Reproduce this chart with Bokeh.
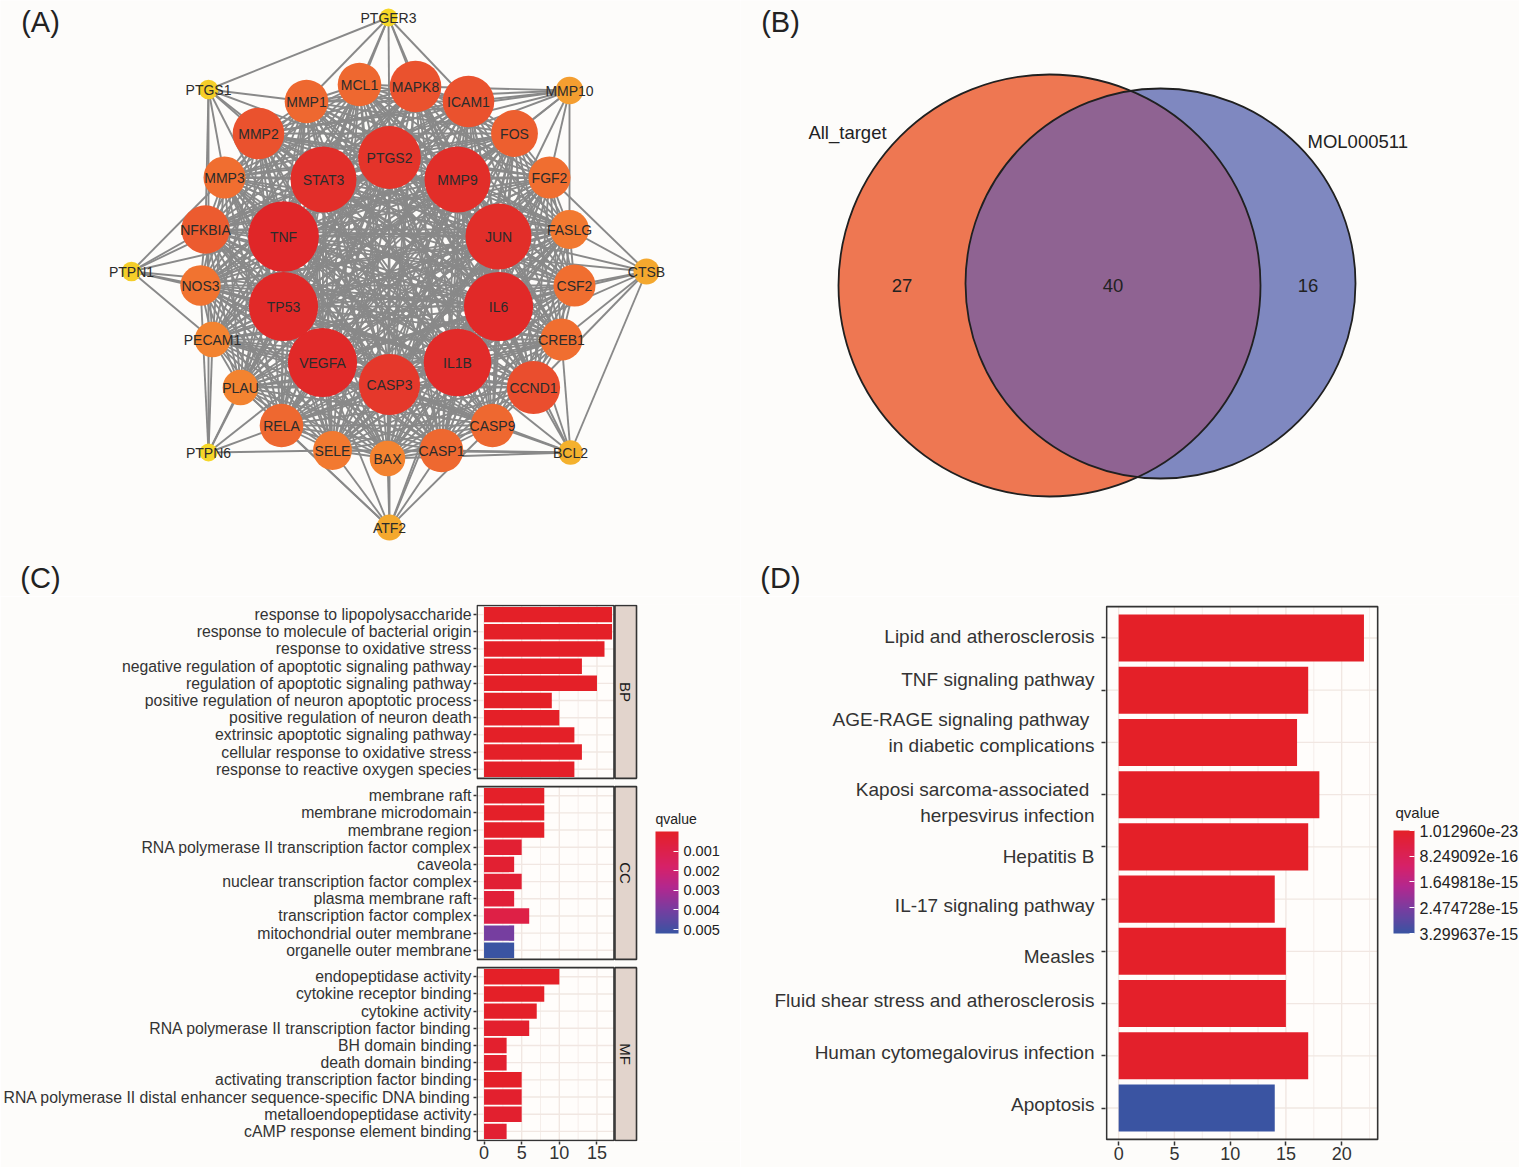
import numpy as np
from bokeh.plotting import figure
from bokeh.layouts import row, column
from bokeh.models import (Range1d, ColumnDataSource, LinearColorMapper, LinearAxis,
                          ColorBar, FixedTicker, CustomJSTickFormatter, AllLabels)
from bokeh.core.properties import value
from bokeh.embed import file_html
from bokeh.resources import INLINE

FONT = "Liberation Sans"
BG = "#FDFCFA"
PANEL_BG = "#FFFDFB"
GRID = "#F1E7E2"
INK = "#2B2B2B"

# ======================= DATA =======================
# (A) PPI network: inner ring, middle ring, outer ring
NODE_NAMES = ["PTGS2", "MMP9", "JUN", "IL6", "IL1B", "CASP3", "VEGFA", "TP53", "TNF", "STAT3",
              "MCL1", "MAPK8", "ICAM1", "FOS", "FGF2", "FASLG", "CSF2", "CREB1", "CCND1", "CASP9",
              "CASP1", "BAX", "SELE", "RELA", "PLAU", "PECAM1", "NOS3", "NFKBIA", "MMP3", "MMP2", "MMP1",
              "PTGER3", "PTGS1", "MMP10", "PTPN1", "CTSB", "PTPN6", "BCL2", "ATF2"]
NODE_X = [389, 457, 498, 498, 457, 389, 322, 283, 283, 323,
          359, 415, 468, 514, 549, 569, 574, 561, 533, 492,
          441, 387, 332, 281, 240, 212, 200, 205, 224, 258, 306,
          388, 208, 569, 131, 646, 208, 570, 389]
NODE_Y = [157, 179, 236, 306, 362, 384, 362, 306, 236, 179,
          84, 86, 101, 133, 177, 229, 285, 339, 387, 425,
          450, 458, 450, 425, 387, 339, 285, 229, 177, 133, 101,
          17, 89, 90, 271, 271, 452, 452, 527]
NODE_DEGREE = [33, 35, 35, 37, 36, 32, 37, 37, 38, 35,
               21, 26, 26, 23, 20, 18, 20, 20, 27, 21,
               21, 16, 18, 21, 16, 16, 19, 24, 20, 26, 21,
               5, 6, 11, 6, 10, 5, 9, 10]
N_CORE = 31
OUTER_LINKS = {
    "PTGER3": ["PTGS1", "MMP1", "MCL1", "MAPK8", "ICAM1", "PTGS2", "STAT3", "MMP9"],
    "PTGS1": ["MMP2", "MMP1", "MMP3", "STAT3", "PTGS2", "TNF", "NFKBIA", "PTPN6"],
    "MMP10": ["MAPK8", "ICAM1", "FOS", "FGF2", "MMP9", "JUN", "MMP2", "MMP1", "MMP3", "FASLG", "PTGS2"],
    "PTPN1": ["NFKBIA", "NOS3", "MMP3", "TNF", "TP53", "STAT3", "PECAM1", "IL6"],
    "CTSB": ["FASLG", "CSF2", "CREB1", "JUN", "IL6", "CCND1", "BCL2", "FGF2", "CASP3", "TNF"],
    "PTPN6": ["PECAM1", "PLAU", "RELA", "SELE", "VEGFA", "TP53", "NOS3"],
    "BCL2": ["CASP9", "CASP1", "CCND1", "CREB1", "IL1B", "CASP3", "BAX", "SELE", "JUN", "IL6"],
    "ATF2": ["BAX", "SELE", "CASP1", "RELA", "CASP9", "CASP3", "IL1B", "VEGFA", "JUN", "PLAU"],
}

# (B) Venn
VENN_SETS = ["All_target", "MOL000511"]
VENN_COUNTS = [27, 40, 16]   # only set 1, both, only set 2

# (C) GO enrichment
BP_TERMS = ["response to lipopolysaccharide", "response to molecule of bacterial origin",
            "response to oxidative stress", "negative regulation of apoptotic signaling pathway",
            "regulation of apoptotic signaling pathway", "positive regulation of neuron apoptotic process",
            "positive regulation of neuron death", "extrinsic apoptotic signaling pathway",
            "cellular response to oxidative stress", "response to reactive oxygen species"]
BP_COUNT = [17, 17, 16, 13, 15, 9, 10, 12, 13, 12]
BP_Q = [2.1e-9, 2.1e-9, 3.5e-8, 4.8e-7, 1.2e-7, 6.5e-6, 6.5e-6, 1.9e-5, 9.3e-6, 4.4e-5]
CC_TERMS = ["membrane raft", "membrane microdomain", "membrane region",
            "RNA polymerase II transcription factor complex", "caveola",
            "nuclear transcription factor complex", "plasma membrane raft",
            "transcription factor complex", "mitochondrial outer membrane", "organelle outer membrane"]
CC_COUNT = [8, 8, 8, 5, 4, 5, 4, 6, 4, 4]
CC_Q = [2.4e-5, 2.4e-5, 2.6e-5, 3.1e-4, 2.9e-4, 3.4e-4, 4.5e-4, 8.5e-4, 4.0e-3, 5.2e-3]
MF_TERMS = ["endopeptidase activity", "cytokine receptor binding", "cytokine activity",
            "RNA polymerase II transcription factor binding", "BH domain binding", "death domain binding",
            "activating transcription factor binding",
            "RNA polymerase II distal enhancer sequence-specific DNA binding",
            "metalloendopeptidase activity", "cAMP response element binding"]
MF_COUNT = [10, 8, 7, 6, 3, 3, 5, 5, 5, 3]
MF_Q = [1.4e-5, 3.0e-7, 4.0e-5, 1.8e-4, 1.8e-4, 2.2e-4, 1.1e-5, 1.8e-4, 2.1e-4, 3.0e-4]
GO_FACETS = ["BP", "CC", "MF"]
GO_X_TICKS = [0, 5, 10, 15]
GO_Q_BREAKS = [0.001, 0.002, 0.003, 0.004, 0.005]

# (D) KEGG enrichment
KEGG_TERMS = ["Lipid and atherosclerosis", "TNF signaling pathway",
              "AGE-RAGE signaling pathway \nin diabetic complications",
              "Kaposi sarcoma-associated \nherpesvirus infection", "Hepatitis B",
              "IL-17 signaling pathway", "Measles", "Fluid shear stress and atherosclerosis",
              "Human cytomegalovirus infection", "Apoptosis"]
KEGG_COUNT = [22, 17, 16, 18, 17, 14, 15, 15, 17, 14]
KEGG_Q = [1.012960e-23, 3.2e-21, 2.1e-18, 3.4e-19, 1.9e-18, 4.6e-17, 1.6e-17, 4.2e-17, 5.5e-17, 3.299637e-15]
KEGG_X_TICKS = [0, 5, 10, 15, 20]
KEGG_Q_BREAKS = [1.012960e-23, 8.249092e-16, 1.649818e-15, 2.474728e-15, 3.299637e-15]
# vertical nudge of each KEGG tick label relative to its tick (rows), as printed
KEGG_LABEL_NUDGE = [-0.02, -0.21, -0.19, 0.15, 0.19, 0.13, 0.1, -0.06, -0.06, -0.06]


# ======================= helpers =======================
def ramp(stops, n=256):
    ts = np.array([s[0] for s in stops])
    cols = np.array([s[1] for s in stops], float)
    out = []
    for t in np.linspace(0, 1, n):
        r, g, b = (np.interp(t, ts, cols[:, k]) for k in range(3))
        out.append("#%02x%02x%02x" % (int(round(r)), int(round(g)), int(round(b))))
    return out


Q_PALETTE = ramp([(0.0, (228, 32, 40)), (0.35, (214, 33, 105)), (0.55, (178, 40, 143)),
                  (0.77, (118, 62, 160)), (1.0, (58, 84, 162))])
NODE_PALETTE = ramp([(0.0, (246, 215, 40)), (0.06, (244, 196, 42)), (0.18, (244, 158, 48)),
                     (0.35, (243, 128, 48)), (0.5, (238, 102, 48)), (0.65, (234, 80, 46)),
                     (0.85, (228, 52, 42)), (1.0, (224, 38, 40))])

PAGE_W, PAGE_H = 1519, 1167
TOP_H = 596
BOT_H = PAGE_H - TOP_H
W_LEFT = 740
W_RIGHT = PAGE_W - W_LEFT


def blank_fig(x0, x1, y0, y1, w, h):
    p = figure(width=w, height=h, x_range=Range1d(x0, x1), y_range=Range1d(y1, y0),
               output_backend="svg", toolbar_location=None, x_axis_location=None,
               y_axis_location=None, min_border=0, background_fill_color=BG,
               border_fill_color=BG, outline_line_color=None)
    p.grid.grid_line_color = None
    return p


def panel_tag(p, xs, ys, tags):
    p.text(x=xs, y=ys, text=tags, text_font=value(FONT), text_font_size="29px",
           text_color="#222222", text_align="center", text_baseline="middle")


def style_axis(ax, tick_out, size):
    ax.axis_line_color = None
    ax.major_tick_out = tick_out
    ax.major_tick_in = 0
    ax.major_tick_line_color = "#333333"
    ax.major_tick_line_width = 1.5
    ax.minor_tick_line_color = None
    ax.major_label_text_font = FONT
    ax.major_label_text_color = "#333333"
    ax.major_label_text_font_size = size


def q_colorbar(p, vals, breaks, code, bar_w, bar_h, lab_size, loc):
    cmap = LinearColorMapper(palette=Q_PALETTE[::-1], low=-max(vals), high=-min(vals))
    cb = ColorBar(color_mapper=cmap, orientation="vertical", width=bar_w, height=bar_h,
                  ticker=FixedTicker(ticks=[-b for b in breaks]),
                  formatter=CustomJSTickFormatter(code=code), major_label_policy=AllLabels(),
                  major_label_text_font=FONT, major_label_text_font_size=lab_size,
                  major_label_text_color="#222222", label_standoff=5,
                  major_tick_line_color="white", major_tick_in=5, major_tick_out=0,
                  minor_tick_line_color=None, bar_line_color=None, border_line_color=None,
                  background_fill_color=None, padding=4, margin=0, location=loc)
    p.add_layout(cb)


def legend_title(p, x, y, size):
    p.text(x=[x], y=[y], text=["qvalue"], text_font=value(FONT), text_font_size=size,
           text_color="#222222", text_align="left", text_baseline="middle")


# ======================= (A) network =======================
pA = blank_fig(0, W_LEFT, 0, TOP_H, W_LEFT, TOP_H)
pos = {n: (x, y) for n, x, y in zip(NODE_NAMES, NODE_X, NODE_Y)}
core = NODE_NAMES[:N_CORE]
edges = [(a, b) for i, a in enumerate(core) for b in core[i + 1:]]
for o, nbrs in OUTER_LINKS.items():
    edges += [(o, b) for b in nbrs]
pA.segment(x0=[pos[a][0] for a, b in edges], y0=[pos[a][1] for a, b in edges],
           x1=[pos[b][0] for a, b in edges], y1=[pos[b][1] for a, b in edges],
           line_color="#898989", line_width=1.9)
node_src = ColumnDataSource(dict(x=NODE_X, y=NODE_Y, name=NODE_NAMES, deg=NODE_DEGREE,
                                 r=[5 + 0.8 * d for d in NODE_DEGREE]))
node_mapper = LinearColorMapper(palette=NODE_PALETTE, low=min(NODE_DEGREE), high=max(NODE_DEGREE))
pA.circle(x="x", y="y", radius="r", source=node_src,
          fill_color={"field": "deg", "transform": node_mapper}, line_color=None)
pA.text(x="x", y="y", text="name", source=node_src, text_font=value(FONT), text_font_size="14px",
        text_color=INK, text_align="center", text_baseline="middle")
panel_tag(pA, [40, 40], [21, 577], ["(A)", "(C)"])

# ======================= (B) Venn =======================
pB = blank_fig(W_LEFT, PAGE_W, 0, TOP_H, W_RIGHT, TOP_H)
C1, R1 = (1049.0, 285.0), 211.0
C2, R2 = (1160.0, 283.0), 195.0
c1, c2 = np.array(C1), np.array(C2)
d = np.linalg.norm(c2 - c1)
u = (c2 - c1) / d
a = (d * d + R1 * R1 - R2 * R2) / (2 * d)
h = np.sqrt(R1 * R1 - a * a)
th = np.arctan2(u[1], u[0])
al1 = np.arctan2(h, a)
al2 = np.arctan2(h, d - a)
t1 = np.linspace(th - al1, th + al1, 120)
t2 = np.linspace(th + np.pi - al2, th + np.pi + al2, 120)
lens_x = np.concatenate([c1[0] + R1 * np.cos(t1), c2[0] + R2 * np.cos(t2)])
lens_y = np.concatenate([c1[1] + R1 * np.sin(t1), c2[1] + R2 * np.sin(t2)])
pB.circle(x=[C1[0]], y=[C1[1]], radius=R1, fill_color="#EE7752", line_color=None)
pB.circle(x=[C2[0]], y=[C2[1]], radius=R2, fill_color="#7F88C0", line_color=None)
pB.patch(lens_x, lens_y, fill_color="#8F6392", line_color=None)
pB.circle(x=[C1[0], C2[0]], y=[C1[1], C2[1]], radius=[R1, R2], fill_color=None,
          line_color="#202020", line_width=1.8)
count_x = [(C1[0] - R1 + C2[0] - R2) / 2, (C2[0] - R2 + C1[0] + R1) / 2, (C1[0] + R1 + C2[0] + R2) / 2]
pB.text(x=count_x, y=[C1[1]] * 3, text=[str(v) for v in VENN_COUNTS], text_font=value(FONT),
        text_font_size="18.5px", text_color="#222222", text_align="center", text_baseline="middle")
pB.text(x=[847], y=[132], text=[VENN_SETS[0]], text_font=value(FONT), text_font_size="18.5px",
        text_color="#222222", text_align="center", text_baseline="middle")
pB.text(x=[1307], y=[141], text=[VENN_SETS[1]], text_font=value(FONT), text_font_size="18.5px",
        text_color="#222222", text_align="left", text_baseline="middle")
panel_tag(pB, [780, 780], [21, 577], ["(B)", "(D)"])

# ======================= (C) GO =======================
BOX_U, GAP_U, EXP_U = 10.06, 0.48, 0.53
C_FL, C_FT, C_BOTB = 476, 601, 24           # frame left / top (page px), bottom border
C_FB = PAGE_H - C_BOTB
C_PXU = 7.53                                 # px per count unit
C_XLO = -1.0
C_XHI = C_XLO + (W_LEFT - C_FL) / C_PXU
X_BOX_L, X_BOX_R, X_STRIP_L, X_STRIP_R = -0.92, 17.26, 17.39, 20.25
facet_data = [(BP_TERMS, BP_COUNT, BP_Q), (CC_TERMS, CC_COUNT, CC_Q), (MF_TERMS, MF_COUNT, MF_Q)]
Y_TOT = 3 * BOX_U + 2 * GAP_U
C_YLO, C_YHI = -0.06, Y_TOT + 0.06
C_PYU = (C_FB - C_FT) / (C_YHI - C_YLO)
ys, labels, counts, qs, box_top, box_bot = [], [], [], [], [], []
for k, (terms, cnt, q) in enumerate(facet_data):
    top = k * (BOX_U + GAP_U)
    box_top.append(top)
    box_bot.append(top + BOX_U)
    for i, t in enumerate(terms):
        ys.append(round(top + EXP_U + i, 3))
        labels.append(t)
    counts += cnt
    qs += q

pC = figure(width=W_LEFT, height=BOT_H, x_range=Range1d(C_XLO, C_XHI), y_range=Range1d(C_YHI, C_YLO),
            output_backend="svg", toolbar_location=None, min_border_left=C_FL,
            min_border_right=0, min_border_top=C_FT - TOP_H, min_border_bottom=C_BOTB,
            background_fill_color=BG, border_fill_color=BG, outline_line_color=None)
pC.grid.visible = False
pC.quad(left=X_BOX_L, right=X_BOX_R, top=box_top, bottom=box_bot, fill_color=PANEL_BG, line_color=None)
gx0, gx1, gy0, gy1, gw = [], [], [], [], []
for top, bot in zip(box_top, box_bot):
    for gx in [0, 2.5, 5, 7.5, 10, 12.5, 15]:
        gx0.append(gx); gx1.append(gx); gy0.append(top); gy1.append(bot)
        gw.append(1.4 if gx % 5 == 0 else 0.7)
for yy in ys:
    gx0.append(X_BOX_L); gx1.append(X_BOX_R); gy0.append(yy); gy1.append(yy); gw.append(1.4)
pC.segment(x0=gx0, y0=gy0, x1=gx1, y1=gy1, line_color=GRID, line_width=gw)

qmapC = LinearColorMapper(palette=Q_PALETTE, low=min(qs), high=max(qs))
srcC = ColumnDataSource(dict(y=ys, count=counts, q=qs, term=labels))
pC.hbar(y="y", left=0, right="count", height=0.9, source=srcC,
        fill_color={"field": "q", "transform": qmapC}, line_color=None)
pC.quad(left=X_BOX_L, right=X_BOX_R, top=box_top, bottom=box_bot, fill_color=None,
        line_color="#333333", line_width=1.6)
pC.quad(left=X_STRIP_L, right=X_STRIP_R, top=box_top, bottom=box_bot, fill_color="#E2D4CC",
        line_color="#333333", line_width=1.6)
pC.text(x=[(X_STRIP_L + X_STRIP_R) / 2] * 3, y=[(t + b) / 2 for t, b in zip(box_top, box_bot)],
        text=GO_FACETS, angle=-np.pi / 2, text_font=value(FONT), text_font_size="15px",
        text_color="#1A1A1A", text_align="center", text_baseline="middle")

pC.yaxis.ticker = FixedTicker(ticks=ys)
pC.yaxis.major_label_overrides = {yy: t for yy, t in zip(ys, labels)}
pC.xaxis.ticker = FixedTicker(ticks=GO_X_TICKS)
style_axis(pC.yaxis[0], 3, "15.8px")
style_axis(pC.xaxis[0], 3, "18px")
pC.yaxis.major_label_standoff = 2
pC.xaxis.major_label_standoff = 1

# legend: bar 655..678 x 833..935 (page px), title at y 818
q_colorbar(pC, qs, GO_Q_BREAKS, "return (-tick).toFixed(3);", 23, 102, "14.5px",
           (655 - C_FL - 4, C_FB - 935 - 4))
legend_title(pC, C_XLO + (655 - C_FL) / C_PXU, C_YLO + (818 - C_FT) / C_PYU, "14px")

# ======================= (D) KEGG =======================
D_FL, D_FT, D_BOTB = 1105, 604, 26
D_FB = PAGE_H - D_BOTB
D_PXU = 11.15
D_XLO = -1.18
D_XHI = D_XLO + (PAGE_W - D_FL) / D_PXU
D_BOX = (-1.08, 23.23, -0.6, 9.6)            # left, right, top, bottom
D_YLO, D_YHI = -0.64, 9.64
D_PYU = (D_FB - D_FT) / (D_YHI - D_YLO)
rows = list(range(len(KEGG_TERMS)))

pD = figure(width=W_RIGHT, height=BOT_H, x_range=Range1d(D_XLO, D_XHI), y_range=Range1d(D_YHI, D_YLO),
            output_backend="svg", toolbar_location=None, min_border_left=D_FL - W_LEFT,
            min_border_right=0, min_border_top=D_FT - TOP_H, min_border_bottom=D_BOTB,
            background_fill_color=BG, border_fill_color=BG, outline_line_color=None)
pD.grid.visible = False
pD.quad(left=D_BOX[0], right=D_BOX[1], top=D_BOX[2], bottom=D_BOX[3], fill_color=PANEL_BG, line_color=None)
gx0, gx1, gy0, gy1, gw = [], [], [], [], []
for gx in [0, 2.5, 5, 7.5, 10, 12.5, 15, 17.5, 20, 22.5]:
    gx0.append(gx); gx1.append(gx); gy0.append(D_BOX[2]); gy1.append(D_BOX[3])
    gw.append(1.4 if gx % 5 == 0 else 0.7)
for r in rows:
    gx0.append(D_BOX[0]); gx1.append(D_BOX[1]); gy0.append(r); gy1.append(r); gw.append(1.4)
pD.segment(x0=gx0, y0=gy0, x1=gx1, y1=gy1, line_color=GRID, line_width=gw)
qmapD = LinearColorMapper(palette=Q_PALETTE, low=min(KEGG_Q), high=max(KEGG_Q))
srcD = ColumnDataSource(dict(y=rows, term=KEGG_TERMS, count=KEGG_COUNT, q=KEGG_Q))
pD.hbar(y="y", left=0, right="count", height=0.9, source=srcD,
        fill_color={"field": "q", "transform": qmapD}, line_color=None)
pD.quad(left=D_BOX[0], right=D_BOX[1], top=D_BOX[2], bottom=D_BOX[3], fill_color=None,
        line_color="#333333", line_width=1.6)

# inner y axis: tick marks only; outer y axis: the (nudged) term labels
ax_ticks = pD.yaxis[0]
ax_ticks.ticker = FixedTicker(ticks=rows)
style_axis(ax_ticks, 4, "0px")
ax_ticks.major_label_standoff = 0
ax_ticks.major_label_overrides = {r: "" for r in rows}
lab_pos = [round(r + n, 3) for r, n in zip(rows, KEGG_LABEL_NUDGE)]
ax_labels = LinearAxis(ticker=FixedTicker(ticks=lab_pos),
                       major_label_overrides={p_: t for p_, t in zip(lab_pos, KEGG_TERMS)})
style_axis(ax_labels, 0, "19px")
ax_labels.major_tick_line_color = None
ax_labels.major_label_standoff = 7
pD.add_layout(ax_labels, "left")

pD.xaxis.ticker = FixedTicker(ticks=KEGG_X_TICKS)
style_axis(pD.xaxis[0], 4, "18px")
pD.xaxis.major_label_standoff = 1

# legend: bar 1393..1414 x 830..933 (page px), title at y 812
q_colorbar(pD, KEGG_Q, KEGG_Q_BREAKS, "return (-tick).toExponential(6);", 21, 103, "16px",
           (1393 - D_FL - 4, D_FB - 933 - 4))
legend_title(pD, D_XLO + (1395 - D_FL) / D_PXU, D_YLO + (812 - D_FT) / D_PYU, "15px")

layout = column(row(pA, pB), row(pC, pD))
open("out.html", "w").write(file_html(layout, INLINE, title="Network, Venn, GO and KEGG"))
